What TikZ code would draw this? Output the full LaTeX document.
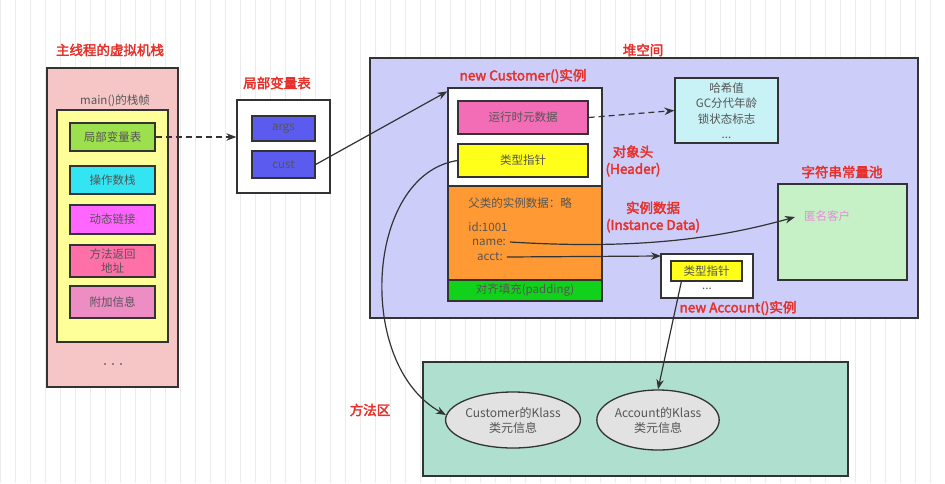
\documentclass[tikz,border=0pt]{standalone}
\usepackage{fontspec}
\setmainfont{Noto Sans CJK SC}[AutoFakeBold=2.5]
\usetikzlibrary{arrows.meta,shapes.geometric,calc}
\definecolor{lbl}{HTML}{E8302A}
\definecolor{txt}{HTML}{555555}
\definecolor{edge}{HTML}{333333}
\definecolor{stackpink}{HTML}{F6C6C6}
\definecolor{framey}{HTML}{FFFF99}
\definecolor{lvgreen}{HTML}{9CE04E}
\definecolor{opcyan}{HTML}{33E4F2}
\definecolor{dynmag}{HTML}{FF66FF}
\definecolor{retpink}{HTML}{FF6FA8}
\definecolor{extpink}{HTML}{EE8CC4}
\definecolor{slotblue}{HTML}{5B5BF0}
\definecolor{heapbg}{HTML}{CDCDFA}
\definecolor{metapink}{HTML}{F26DB6}
\definecolor{ptryel}{HTML}{FFFF1A}
\definecolor{instor}{HTML}{FF9933}
\definecolor{padgreen}{HTML}{11D21A}
\definecolor{hashbg}{HTML}{C8F2F6}
\definecolor{poolbg}{HTML}{C6F0C6}
\definecolor{anonpink}{HTML}{E88BD8}
\definecolor{methbg}{HTML}{AEDFCF}
\definecolor{klassbg}{HTML}{E2E2E2}
\definecolor{gridc}{HTML}{ECECEC}
\tikzset{
  box/.style={draw=edge, line width=1.3pt, inner sep=0pt, align=center, font=\fontsize{11.5}{13}\selectfont, text=txt},
  redlbl/.style={font=\bfseries\fontsize{13.5}{16}\selectfont, text=lbl, align=center, inner sep=0pt},
  plain/.style={font=\fontsize{11.5}{13}\selectfont, text=txt, align=center, inner sep=0pt},
  arr/.style={draw=edge, line width=1.2pt, -{Stealth[length=10pt,width=7.5pt]}},
  darr/.style={arr, dashed, dash pattern=on 6pt off 4pt},
  klass/.style={ellipse, draw=edge, line width=1.3pt, fill=klassbg, inner sep=0pt, align=center, font=\fontsize{12}{15}\selectfont, text=txt}
}
\begin{document}
\begin{tikzpicture}[x=1pt,y=-1pt]
\useasboundingbox (0,0) rectangle (945,483);
\fill[white] (0,0) rectangle (945,483);
\draw[gridc, line width=0.5pt] (0,0) grid[step=15] (945,483);

% stack
\node[box, fill=stackpink, minimum width=131, minimum height=319] (stack) at (112.5,227.5) {};
\node[redlbl] (title) at (110,50) {主线程的虚拟机栈};
\node[plain] (mainf) at (115,101) {main()的栈帧};
\node[box, fill=framey, minimum width=111, minimum height=232] (frame) at (112.5,226) {};
\node[box, fill=lvgreen, minimum width=85, minimum height=28] (lvt) at (112.5,137) {局部变量表};
\node[box, fill=opcyan, minimum width=85, minimum height=28] (ops) at (112.5,180) {操作数栈};
\node[box, fill=dynmag, minimum width=85, minimum height=29] (dyn) at (112.5,219.5) {动态链接};
\node[box, fill=retpink, minimum width=85, minimum height=32, font=\fontsize{11.5}{14}\selectfont] (ret) at (112.5,261) {方法返回\\地址};
\node[box, fill=extpink, minimum width=85, minimum height=32] (ext) at (112.5,302) {附加信息};
\node[plain, font=\bfseries\fontsize{11}{12}\selectfont] (sdots) at (113,364) {.\ \ .\ \ .};

% local variable table
\node[redlbl] (lvlbl) at (277,83) {局部变量表};
\node[box, fill=white, minimum width=93, minimum height=93] (locals) at (283.5,146.5) {};
\node[box, fill=slotblue, minimum width=63, minimum height=25] (args) at (283.5,128.5) {args};
\node[box, fill=slotblue, minimum width=63, minimum height=27] (cust) at (283.5,164.5) {cust};

% heap
\node[box, fill=heapbg, minimum width=548, minimum height=260] (heap) at (644,188) {};
\node[redlbl] (heaplbl) at (643,50) {堆空间};
\node[redlbl] (custlbl) at (523,76) {new Customer()实例};
\node[box, fill=white, minimum width=154, minimum height=98] (chead) at (525,137) {};
\node[box, fill=instor, minimum width=154, minimum height=94] (cdata) at (525,233) {};
\node[box, fill=padgreen, minimum width=154, minimum height=21] (cpad) at (525,290.5) {对齐填充(padding)};
\node[box, fill=metapink, minimum width=130, minimum height=33] (meta) at (523,117.5) {运行时元数据};
\node[box, fill=ptryel, minimum width=130, minimum height=33] (ptr) at (523,160.5) {类型指针};
\node[plain] (parent) at (520,203) {父类的实例数据：略};
\node[plain] (idv) at (488,227) {id:1001};
\node[plain] (namev) at (489,242) {name:};
\node[plain] (acctv) at (490,257) {acct:};

\node[box, fill=hashbg, minimum width=103, minimum height=65, font=\fontsize{11.5}{15.5}\selectfont] (hash) at (726.5,110.5) {哈希值\\GC分代年龄\\锁状态标志\\...};
\node[redlbl, font=\bfseries\fontsize{13.5}{17}\selectfont] (hdrlbl) at (633,161) {对象头\\(Header)};
\node[redlbl, font=\bfseries\fontsize{13.5}{17}\selectfont] (instlbl) at (653,217) {实例数据\\(Instance Data)};
\node[redlbl] (poollbl) at (842,172) {字符串常量池};
\node[box, fill=poolbg, minimum width=129, minimum height=96] (pool) at (842.5,232) {};
\node[plain, text=anonpink] (anon) at (827,216) {匿名客户};
\coordinate (poolin) at (795,217);

\node[box, fill=white, minimum width=92, minimum height=44] (abox) at (707,276) {};
\node[box, fill=ptryel, minimum width=71, minimum height=20] (aptr) at (706.5,271) {类型指针};
\node[plain] (adots) at (707,289) {...};
\node[redlbl] (acctlbl) at (738,308) {new Account()实例};
\coordinate (aboxin) at (661,256);

% method area
\node[box, fill=methbg, minimum width=425, minimum height=114] (meth) at (635.5,419) {};
\node[redlbl] (methlbl) at (370,410) {方法区};
\node[klass, minimum width=127, minimum height=56] (cklass) at (513,420) {Customer的Klass\\类元信息};
\node[klass, minimum width=118, minimum height=60] (aklass) at (658,420) {Account的Klass\\类元信息};

% connectors
\draw[darr] (lvt.east) -- (lvt.east -| locals.west);
\draw[arr] (cust.east) -- ($(chead.north west)+(0,4)$);
\draw[darr] (meta.east) -- (hash.west);
\draw[arr] (ptr.west) .. controls (365,175) and (355,365) .. ($(cklass.west)+(1,-5)$);
\draw[arr] (namev.east) ++(4,0) .. controls (640,250) and (720,238) .. (poolin);
\draw[arr] (acctv.east) ++(4,0) -- (aboxin);
\draw[arr] ($(aptr.south west)+(11,0)$) -- (aklass.north);
\end{tikzpicture}
\end{document}
